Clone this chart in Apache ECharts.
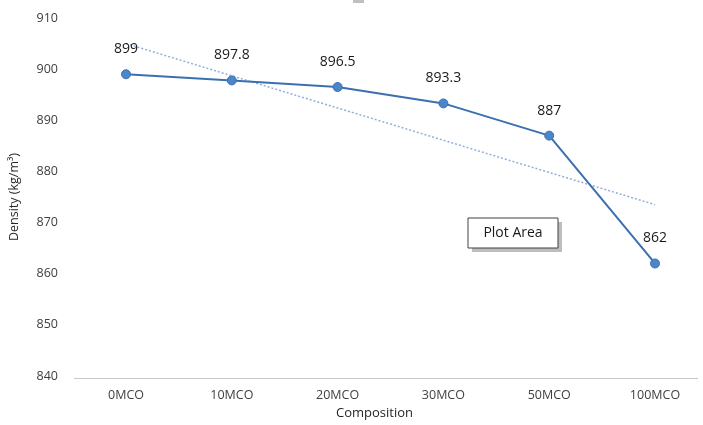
<!DOCTYPE html>
<html><head><meta charset="utf-8">
<script src="https://cdn.jsdelivr.net/npm/echarts@6/dist/echarts.min.js"></script>
<style>html,body{margin:0;padding:0;background:#fff}#c{width:703px;height:425px}</style>
</head><body><div id="c"></div>
<script>
var categories = ['0MCO','10MCO','20MCO','30MCO','50MCO','100MCO'];
var density = [899, 897.8, 896.5, 893.3, 887, 862];
// trend line end points (first and last category)
var trend = [905, null, null, null, null, 873.5];
var yTicks = {min: 840, max: 910, interval: 10};

var chart = echarts.init(document.getElementById('c'), null, {renderer: 'canvas'});
var font = '"Open Sans", "Noto Sans", sans-serif';
chart.setOption({
  animation: false,
  grid: {left: 126, right: 48, top: 18, bottom: 47},
  xAxis: {
    type: 'category', data: categories, boundaryGap: false,
    axisLine: {show: false},
    axisTick: {show: false},
    axisLabel: {color: '#404040', fontSize: 12.5, fontFamily: font, margin: 13},
    name: 'Composition', nameLocation: 'middle', nameGap: 31,
    nameTextStyle: {color: '#262626', fontSize: 13, fontFamily: font, padding: [0, 32, 0, 0]}
  },
  yAxis: {
    type: 'value', min: yTicks.min, max: yTicks.max, interval: yTicks.interval,
    axisLine: {show: false}, axisTick: {show: false}, splitLine: {show: false},
    axisLabel: {color: '#404040', fontSize: 12.5, fontFamily: font, margin: 68},
    name: 'Density (kg/m\u00b3)', nameLocation: 'middle', nameGap: 105, nameRotate: 90,
    nameTextStyle: {color: '#262626', fontSize: 12.5, fontFamily: font}
  },
  series: [
    {
      type: 'line', data: trend, connectNulls: true, symbol: 'none', z: 1,
      lineStyle: {color: '#8fb0d8', width: 1.5, type: [2, 2]}
    },
    {
      type: 'line', data: density, symbol: 'circle', symbolSize: 9, z: 3,
      lineStyle: {color: '#3c6fb0', width: 2},
      itemStyle: {color: '#4a86c8', borderColor: '#3c6fb0', borderWidth: 1},
      label: {show: true, position: 'top', distance: 13, color: '#1a1a1a', fontSize: 14, fontFamily: font}
    }
  ],
  graphic: [
    {type: 'line', shape: {x1: 74, y1: 378.5, x2: 698, y2: 378.5}, style: {stroke: '#c8c8c8', lineWidth: 1}},
    {type: 'rect', shape: {x: 353, y: 0, width: 11, height: 3}, style: {fill: '#c0c0c0'}},
    {type: 'rect', shape: {x: 472, y: 222, width: 90, height: 30},
      style: {fill: '#bdbdbd'}, z: 10},
    {type: 'rect', shape: {x: 468, y: 218, width: 90, height: 30},
      style: {fill: '#ffffff', stroke: '#404040', lineWidth: 1}, z: 11},
    {type: 'text', x: 513, y: 233, z: 12,
      style: {text: 'Plot Area', fill: '#1a1a1a', font: '14px ' + font, align: 'center', verticalAlign: 'middle'}}
  ]
});
</script></body></html>
